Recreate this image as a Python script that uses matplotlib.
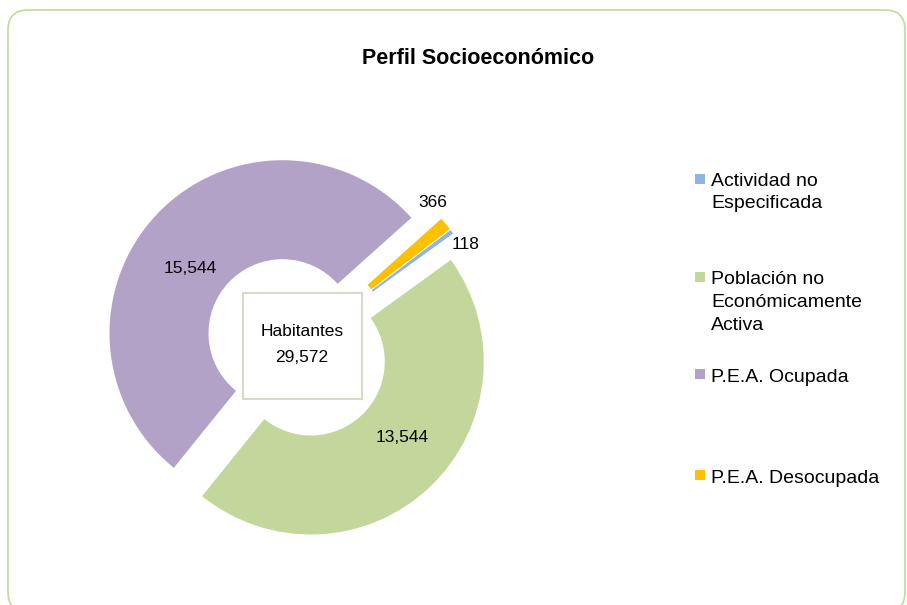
import matplotlib

matplotlib.use("Agg")
import matplotlib.pyplot as plt
import numpy as np
from matplotlib.patches import FancyBboxPatch, Rectangle

W, H = 907, 605

# ---------- datos ----------
TITLE = "Perfil Socioeconómico"
CATEGORIES = [
    "Actividad no\nEspecificada",
    "Población no\nEconómicamente\nActiva",
    "P.E.A. Ocupada",
    "P.E.A. Desocupada",
]
VALUES = [118, 13544, 15544, 366]
COLORS = ["#8EB4E3", "#C3D69B", "#B3A2C7", "#FFC000"]
CENTER_TITLE = "Habitantes"
TOTAL = sum(VALUES)

# posición de etiquetas: (desfase angular en sentido horario, radio px)
LABEL_SPOTS = [(6, 177), (-7, 119), (-8.6, 113), (-8, 178)]
# línea base de la primera línea de cada entrada de leyenda (px desde arriba)
LEG_BASE = [186, 284.5, 381.7, 482.7]
LEG_PITCH = 22.5

plt.rcParams["font.family"] = ["Liberation Sans", "DejaVu Sans"]


def img(x, y):
    """coordenadas de imagen (y hacia abajo) -> datos."""
    return x, H - y


fig = plt.figure(figsize=(W / 100, H / 100), dpi=100)
ax = fig.add_axes([0, 0, 1, 1])

wedges, _ = ax.pie(
    VALUES, colors=COLORS, startangle=37.4, counterclock=False,
    center=img(297, 347), radius=173, explode=[20] * len(VALUES),
    wedgeprops=dict(width=99, linewidth=0),
)
ax.set_xlim(0, W)
ax.set_ylim(0, H)
ax.set_aspect("auto")
ax.axis("off")

# etiquetas de valores
for w, v, (da, r) in zip(wedges, VALUES, LABEL_SPOTS):
    ang = np.deg2rad((w.theta1 + w.theta2) / 2 - da)
    cx, cy = w.center
    ax.text(cx + r * np.cos(ang), cy + r * np.sin(ang), f"{v:,}",
            ha="center", va="center", fontsize=12.5, color="#000000")

# cuadro central
bx, by = img(243, 399)
ax.add_patch(Rectangle((bx, by), 119, 106, fill=False, ec="#D5DBC9", lw=1.5))
ax.text(*img(302, 331), CENTER_TITLE, ha="center", va="center", fontsize=12.5)
ax.text(*img(302, 358), f"{TOTAL:,}", ha="center", va="center", fontsize=12.5)

# título
ax.text(*img(478, 59), TITLE, ha="center", va="center", fontsize=15.5,
        fontweight="bold")

# leyenda
for lab, col, yb in zip(CATEGORIES, COLORS, LEG_BASE):
    ax.scatter(*img(700, yb - 7.5), marker="s", s=56, color=col, lw=0)
    for i, line in enumerate(lab.split("\n")):
        ax.text(*img(711, yb + i * LEG_PITCH), line, ha="left",
                va="baseline", fontsize=14)

# marco redondeado
fx, fy = img(8, 612)
ax.add_patch(FancyBboxPatch((fx, fy), 897, 602,
                            boxstyle="round,pad=0,rounding_size=20",
                            fc="none", ec="#C6DBA2", lw=1.3, clip_on=False))

fig.savefig("out.png", dpi=100)
